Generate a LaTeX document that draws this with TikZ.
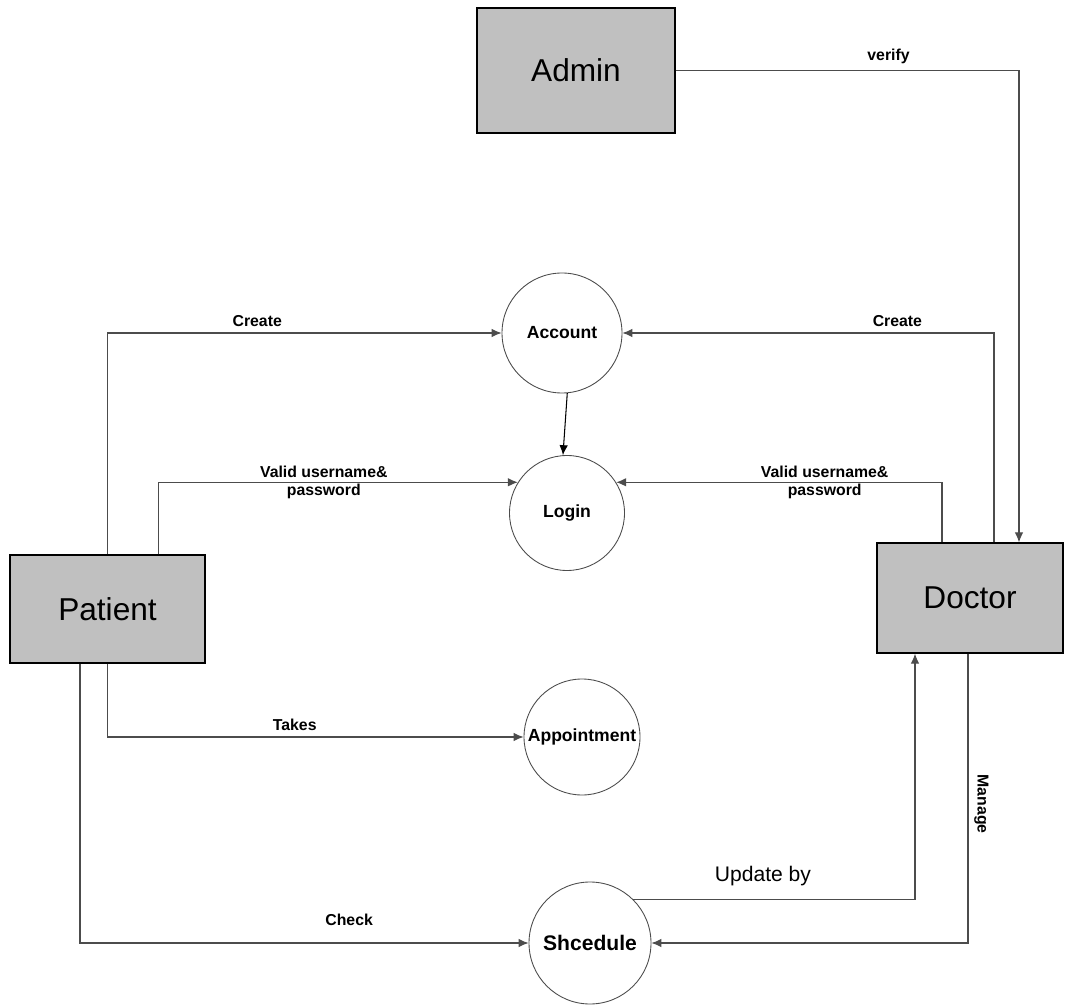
\documentclass[tikz,border=0pt]{standalone}
\usepackage{fontspec}
\setmainfont{Liberation Sans}
\usepackage{tikz}
\usetikzlibrary{arrows.meta, positioning, calc}
\usepackage{xcolor}
\definecolor{boxgray}{RGB}{192,192,192}

\begin{document}
\begin{tikzpicture}[
  entity/.style={rectangle, draw=black, line width=0.7pt, fill=boxgray,
                 font=\fontsize{18}{20}\selectfont},
  proc/.style={circle, draw=black!70, line width=0.5pt, inner sep=0pt,
               font=\fontsize{10}{12}\selectfont\bfseries},
  flow/.style={-{Latex[length=2mm,width=1.7mm]}, draw=black!70, line width=0.6pt},
  lbl/.style={font=\fontsize{9}{10.5}\selectfont\bfseries, align=center}
]
  \useasboundingbox (0,0) rectangle (21.3,-20.1);

  % external entities
  \node[entity, minimum width=3.96cm, minimum height=2.5cm]  (Admin)   at (11.52, -1.41)  {Admin};
  \node[entity, minimum width=3.9cm,  minimum height=2.16cm] (Patient) at (2.15, -12.18)  {Patient};
  \node[entity, minimum width=3.72cm, minimum height=2.2cm]  (Doctor)  at (19.4, -11.96)  {Doctor};

  % processes
  \node[proc, minimum size=2.4cm]  (Account)     at (11.24, -6.66)  {Account};
  \node[proc, minimum size=2.3cm]  (Login)       at (11.34, -10.26) {Login};
  \node[proc, minimum size=2.32cm] (Appointment) at (11.64, -14.74) {Appointment};
  \node[proc, minimum size=2.44cm, font=\fontsize{12}{14}\selectfont\bfseries]
                                   (Schedule)    at (11.8, -18.86)  {Shcedule};

  % patient side
  \draw[flow] (Patient.north) |- node[lbl, above, pos=0.69] (lCreateP) {Create} (Account.west);
  \draw[flow] ($(Patient.north)+(1.02,0)$) |- node[lbl, pos=0.73] (lValidP) {Valid username\&\\password} (Login.148);
  \draw[flow] (Patient.south) |- node[lbl, above, pos=0.725] (lTakes) {Takes} (Appointment.west);
  \draw[flow] ($(Patient.south)+(-0.55,0)$) |- node[lbl, above=6pt, pos=0.8] (lCheck) {Check} (Schedule.west);

  % doctor side
  \draw[flow] (Admin.east) -| node[lbl, above, pos=0.31] (lVerify) {verify} ($(Doctor.north)+(0.98,0)$);
  \draw[flow] ($(Doctor.north)+(0.48,0)$) |- node[lbl, above, pos=0.63] (lCreateD) {Create} (Account.east);
  \draw[flow] ($(Doctor.north)+(-0.56,0)$) |- node[lbl, pos=0.68] (lValidD) {Valid username\&\\password} (Login.32);
  \draw[flow] (Schedule.45) -| node[above=4pt, pos=0.23, font=\fontsize{12}{14}\selectfont] (lUpdate) {Update by} ($(Doctor.south)+(-1.1,0)$);
  \draw[flow] ($(Doctor.south)+(-0.04,0)$) |- node[lbl, rotate=-90, anchor=south, pos=0.26] (lManage) {Manage} (Schedule.east);

  \draw[flow, draw=black] (Account.-85) -- (Login.94);
\end{tikzpicture}
\end{document}
